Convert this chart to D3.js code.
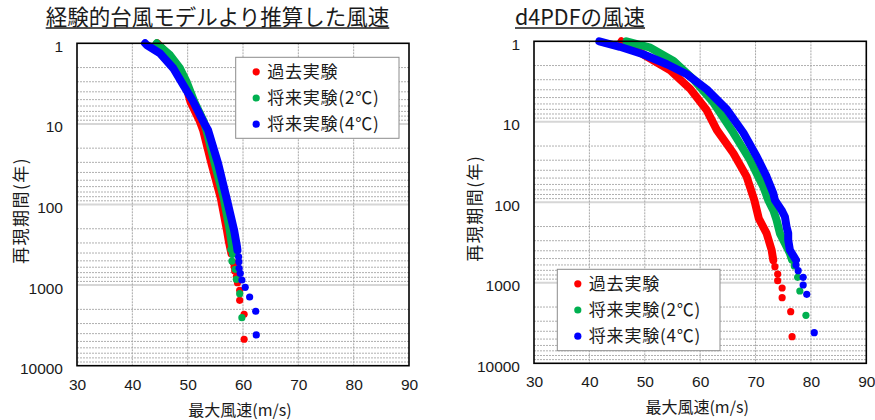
<!DOCTYPE html>
<html>
<head>
<meta charset="utf-8">
<script src="https://cdn.jsdelivr.net/npm/d3@7"></script>
<style>
  body { margin: 0; background: #fff; }
  text { fill: #1a1a1a; }
</style>
</head>
<body>
<script>
// tick values
var speedTicks = [30, 40, 50, 60, 70, 80, 90];
var periodTicks = [1, 10, 100, 1000, 10000];
var seriesNames = ["過去実験", "将来実験(2℃)", "将来実験(4℃)"];
var seriesColors = ["#ff0000", "#00b050", "#0000ff"];

// 経験的台風モデル : [風速, 再現期間]  band = dense part, dots = sparse tail
var modelPastBand = [[44.5,1.0],[46.5,1.4],[48.3,2.04],[49.5,3.0],[50.5,5.3],[52.2,9.3],[52.8,12],[54.3,31],[56.0,84],[57.1,208],[57.5,300],[57.9,405]];
var modelPastDots = [[58.2,520],[58.4,590],[58.5,670],[58.8,790],[59.0,934],[59.4,1159],[59.4,1543],[60.2,2300],[60.2,4695]];
var model2kBand = [[44.4,1.0],[44.7,1.05],[46.8,1.4],[48.6,2.04],[49.8,3.0],[51.2,5.3],[52.9,9.3],[53.4,12],[54.9,31],[56.5,82],[57.6,208],[58.0,320]];
var model2kDots = [[57.8,362],[58.1,415],[58.0,503],[58.6,637],[58.8,847],[59.4,1278],[59.8,2535]];
var model4kBand = [[42.3,1.0],[42.6,1.05],[45.0,1.33],[47.4,2.04],[49.2,3.29],[51.0,5.28],[52.8,9.3],[53.7,12],[55.5,31],[57.0,82],[58.4,210],[58.9,330],[59.0,370]];
var model4kDots = [[59.2,445],[59.25,514],[59.3,620],[59.5,714],[59.8,865],[60.4,1065],[61.2,1404],[62.3,2112],[62.4,4150]];

// d4PDF
var d4PastBand = [[45.8,1.0],[49.9,1.48],[54.6,2.3],[58.2,3.9],[61.2,7.2],[63.0,12.6],[66.0,24.6],[68.4,48],[69.8,95],[70.6,160],[72.0,243],[72.9,391],[73.2,521]];
var d4PastDots = [[73.5,631],[74.0,778],[74.0,942],[74.8,1161],[74.8,1532],[76.35,2286],[76.6,4674]];
var d42kBand = [[46.7,1.0],[51.0,1.2],[55.2,1.76],[58.8,2.97],[62.4,5.8],[66.0,13.7],[69.0,29.8],[71.4,64],[72.3,94],[73.2,125],[73.8,166],[74.4,243],[75.3,323],[76.2,430],[76.6,521]];
var d42kDots = [[77.0,618],[77.6,854],[78.0,1265],[79.1,2535]];
var d44kBand = [[41.8,1.0],[45.5,1.17],[49.7,1.45],[54.0,1.93],[57.6,2.57],[61.2,3.95],[64.8,7.0],[67.8,13.7],[70.2,27],[72.0,48],[73.2,77],[73.5,94],[74.7,125],[75.3,151],[75.6,201],[75.9,243],[75.9,294],[76.2,391],[77.3,521]];
var d44kDots = [[77.3,600],[77.7,707],[78.6,854],[78.6,1065],[79.25,1390],[80.6,4170]];

var jp = "'Noto Sans CJK JP', sans-serif";
var latin = "'Liberation Sans', Arial, sans-serif";

var svg = d3.select("body").append("svg")
  .attr("width", 875)
  .attr("height", 420);

function panel(o) {
  var x = d3.scaleLinear().domain([30, 90]).range([o.left, o.right]);
  var y = d3.scaleLog().domain([1, 10000]).range([o.top, o.bottom]);
  var g = svg.append("g");

  // minor grid
  var minors = [];
  [1, 10, 100, 1000].forEach(function(b) {
    for (var m = 2; m <= 9; m++) minors.push(b * m);
  });
  g.selectAll(".minor").data(minors).enter().append("line")
    .attr("x1", o.left).attr("x2", o.right)
    .attr("y1", function(d) { return y(d); })
    .attr("y2", function(d) { return y(d); })
    .attr("stroke", "#b0b0b0").attr("stroke-width", 1)
    .attr("stroke-dasharray", "2,1");
  g.selectAll(".major").data([10, 100, 1000]).enter().append("line")
    .attr("x1", o.left).attr("x2", o.right)
    .attr("y1", function(d) { return y(d); })
    .attr("y2", function(d) { return y(d); })
    .attr("stroke", "#d6d6d6").attr("stroke-width", 2);
  g.selectAll(".vgrid").data(speedTicks.slice(1, -1)).enter().append("line")
    .attr("y1", o.top).attr("y2", o.bottom)
    .attr("x1", function(d) { return x(d); })
    .attr("x2", function(d) { return x(d); })
    .attr("stroke", "#a8a8a8").attr("stroke-width", 1)
    .attr("stroke-dasharray", "2,1");

  // series
  var line = d3.line()
    .x(function(d) { return x(d[0]); })
    .y(function(d) { return y(d[1]); });
  o.series.forEach(function(s, i) {
    var col = seriesColors[i];
    g.append("path")
      .attr("d", line(s.band))
      .attr("fill", "none")
      .attr("stroke", col)
      .attr("stroke-width", 8)
      .attr("stroke-linecap", "round")
      .attr("stroke-linejoin", "round");
    g.append("g").selectAll("circle").data(s.dots).enter().append("circle")
      .attr("cx", function(d) { return x(d[0]); })
      .attr("cy", function(d) { return y(d[1]); })
      .attr("r", 3.6)
      .attr("fill", col);
  });

  // border
  g.append("rect")
    .attr("x", o.left).attr("y", o.top)
    .attr("width", o.right - o.left).attr("height", o.bottom - o.top)
    .attr("fill", "none").attr("stroke", "#000").attr("stroke-width", 1.6);

  // axes
  var xa = g.append("g")
    .attr("transform", "translate(0," + o.bottom + ")")
    .call(d3.axisBottom(x).tickValues(speedTicks).tickSize(0).tickPadding(13));
  xa.select(".domain").remove();
  xa.selectAll("text").attr("font-size", 15.5).attr("font-family", latin).attr("fill", "#1a1a1a");

  var ya = g.append("g")
    .attr("transform", "translate(" + o.left + ",0)")
    .call(d3.axisLeft(y).tickValues(periodTicks).tickSize(0).tickPadding(14).tickFormat(d3.format("d")));
  ya.select(".domain").remove();
  ya.selectAll("text").attr("font-size", 15.5).attr("font-family", latin)
    .attr("dy", "0.52em").attr("fill", "#1a1a1a");

  // axis titles
  g.append("text")
    .attr("x", (o.left + o.right) / 2 - 3).attr("y", o.bottom + 50)
    .attr("text-anchor", "middle")
    .attr("font-family", jp).attr("font-size", 16)
    .text("最大風速(m/s)");
  g.append("text")
    .attr("transform", "translate(" + o.ytitleX + "," + ((o.top + o.bottom) / 2 + 6) + ") rotate(-90)")
    .attr("text-anchor", "middle")
    .attr("font-family", jp).attr("font-size", 17)
    .attr("letter-spacing", 1.5)
    .text("再現期間(年)");

  // title with underline
  var t = svg.append("text")
    .attr("x", o.titleX).attr("y", 25)
    .attr("text-anchor", o.titleAnchor)
    .attr("font-family", jp).attr("font-size", 21.5)
    .text(o.title);
  var bb = t.node().getBBox();
  svg.append("line")
    .attr("x1", bb.x).attr("x2", bb.x + bb.width)
    .attr("y1", 28).attr("y2", 28)
    .attr("stroke", "#1a1a1a").attr("stroke-width", 1.3);

  // legend
  var L = o.legend;
  var lg = svg.append("g");
  lg.append("rect")
    .attr("x", L.x).attr("y", L.y).attr("width", L.w).attr("height", L.h)
    .attr("fill", "#fff").attr("stroke", "#8c8c8c").attr("stroke-width", 1);
  var rows = lg.selectAll(".row").data(seriesNames).enter().append("g")
    .attr("transform", function(d, i) {
      return "translate(" + (L.x + 20.5) + "," + (L.y + 14.5 + i * 26.2) + ")";
    });
  rows.append("circle").attr("r", 3.6)
    .attr("fill", function(d, i) { return seriesColors[i]; });
  rows.append("text")
    .attr("x", 11).attr("y", 6)
    .attr("font-family", jp).attr("font-size", 17)
    .attr("letter-spacing", 0.8)
    .text(function(d) { return d; });
}

panel({
  left: 77, right: 409, top: 43.3, bottom: 365.7,
  ytitleX: 27,
  title: "経験的台風モデルより推算した風速", titleX: 217.5, titleAnchor: "middle",
  series: [
    { band: modelPastBand, dots: modelPastDots },
    { band: model2kBand, dots: model2kDots },
    { band: model4kBand, dots: model4kDots }
  ],
  legend: { x: 235.7, y: 57.3, w: 163.3, h: 81 }
});

panel({
  left: 534, right: 866.3, top: 41.3, bottom: 363.3,
  ytitleX: 481,
  title: "d4PDFの風速", titleX: 515, titleAnchor: "start",
  series: [
    { band: d4PastBand, dots: d4PastDots },
    { band: d42kBand, dots: d42kDots },
    { band: d44kBand, dots: d44kDots }
  ],
  legend: { x: 557.3, y: 269.3, w: 162.7, h: 81.4 }
});
</script>
</body>
</html>
